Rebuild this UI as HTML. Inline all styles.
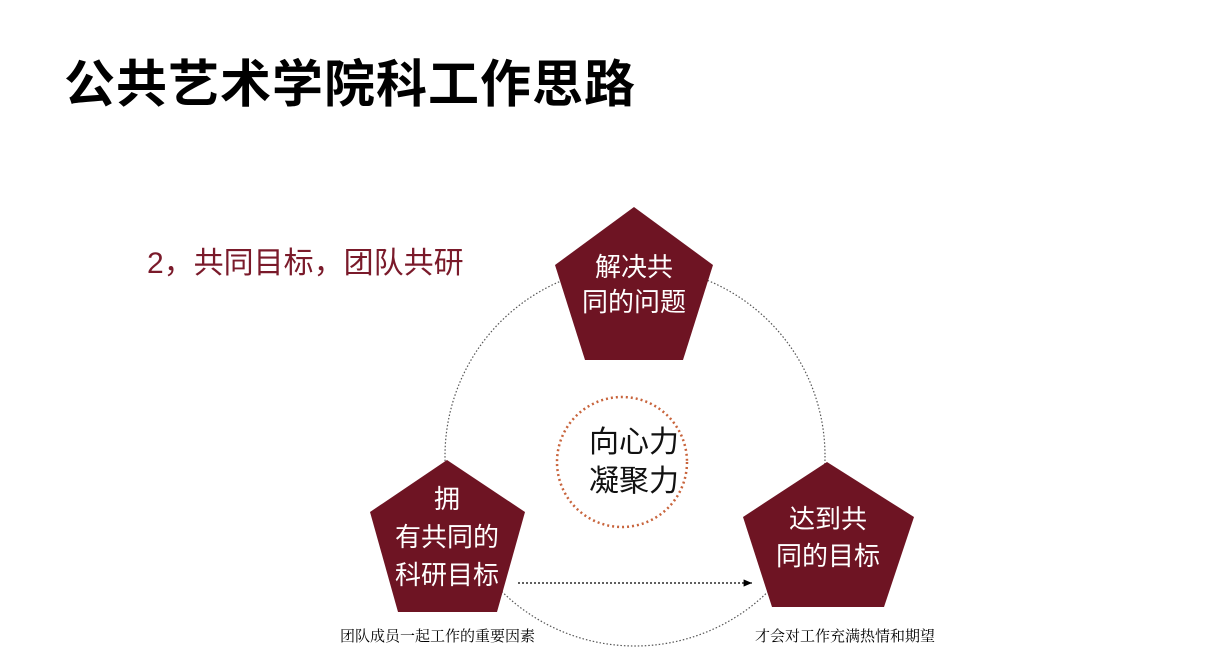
<!DOCTYPE html>
<html><head><meta charset="utf-8"><style>
body{margin:0;width:1210px;height:665px;background:#fff;overflow:hidden;position:relative;font-family:"Liberation Sans","Noto Sans CJK SC",sans-serif}
.t{position:absolute;white-space:nowrap}
</style></head><body>
<div class="t" style="left:64px;top:43px;font-size:51px;font-weight:bold;color:#000;letter-spacing:1px">公共艺术学院科工作思路</div>
<div class="t" style="left:147px;top:238px;font-size:30px;color:#7a1a2a">2，共同目标，团队共研</div>
<svg width="1210" height="665" style="position:absolute;left:0;top:0">
<defs><marker id="a" markerWidth="8" markerHeight="8" refX="7" refY="3" orient="auto"><path d="M0,0 L7,3 L0,6z" fill="#000"/></marker></defs>
<circle cx="635" cy="456" r="190" fill="none" stroke="#555" stroke-width="1.2" stroke-dasharray="1.5 2"/>
<circle cx="622" cy="462" r="65" fill="none" stroke="#c8643c" stroke-width="2.5" stroke-dasharray="2 3"/>
<line x1="518" y1="583" x2="752" y2="583" stroke="#000" stroke-width="1.2" stroke-dasharray="2 2" marker-end="url(#a)"/>
<polygon points="634,207 713,265 683,360 585,360 555,265" fill="#6e1423"/>
<polygon points="447,460 525,512 497,612 398,612 370,512" fill="#6e1423"/>
<polygon points="827,462 914,517 884,607 772,607 743,517" fill="#6e1423"/>
<g font-family="Liberation Sans,Noto Sans CJK SC,sans-serif" font-size="26" fill="#fff" text-anchor="middle">
<text x="634" y="276">解决共</text><text x="634" y="311">同的问题</text>
<text x="447" y="508">拥</text><text x="447" y="546">有共同的</text><text x="447" y="584">科研目标</text>
<text x="828" y="528">达到共</text><text x="828" y="565">同的目标</text>
</g>
<g font-family="Liberation Sans,Noto Sans CJK SC,sans-serif" font-size="30" fill="#111" text-anchor="middle">
<text x="634" y="452">向心力</text><text x="634" y="491">凝聚力</text>
</g>
<g font-family="Liberation Serif,Noto Serif CJK SC,serif" font-size="15" fill="#000">
<text x="340" y="641">团队成员一起工作的重要因素</text>
<text x="755" y="641">才会对工作充满热情和期望</text>
</g>
</svg>
</body></html>
